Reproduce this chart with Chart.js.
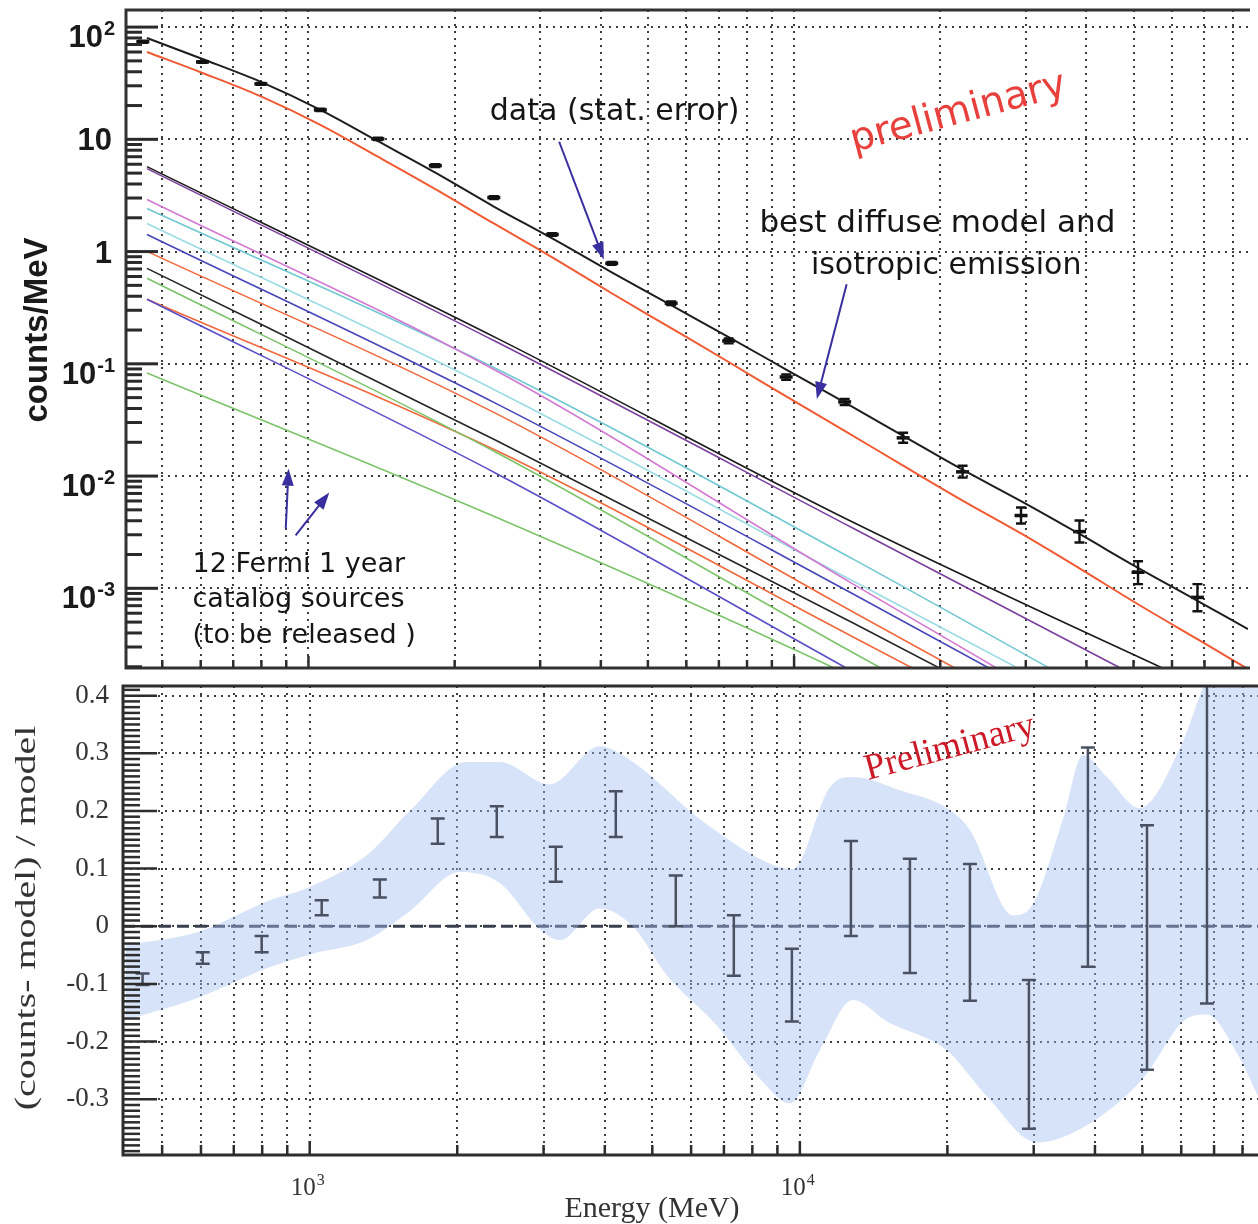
<!DOCTYPE html>
<html>
<head>
<meta charset="utf-8">
<title>Counts spectrum and residuals</title>
<script src="https://cdn.jsdelivr.net/npm/chart.js@4.4.1/dist/chart.umd.min.js"></script>
<style>
  html, body { margin: 0; padding: 0; background: #fff; overflow: hidden; }
  canvas { position: absolute; left: 0; }
  #spec { top: 0; }
  #resid { top: 676px; }
</style>
</head>
<body>
<canvas id="spec" width="1258" height="680"></canvas>
<canvas id="resid" width="1258" height="548"></canvas>
<script>
// ---- values ----
// energy of each measured bin (MeV)
const binEnergy = [456, 605, 798, 1058, 1390, 1825, 2408, 3177, 4212, 5583, 7333, 9632, 12710, 16770, 22230, 29330, 38700, 51080, 67700];
// counts/MeV with stat. error
const counts   = [74, 48.9, 31.2, 18.3, 10.1, 5.83, 3.03, 1.42, 0.786, 0.347, 0.160, 0.0764, 0.0458, 0.0219, 0.0109, 0.00445, 0.0032, 0.00139, 0.00083];
const countsLo = [72.5, 48.0, 30.6, 17.9, 9.85, 5.67, 2.94, 1.38, 0.762, 0.334, 0.152, 0.0722, 0.0430, 0.0198, 0.00968, 0.00378, 0.00256, 0.00109, 0.000625];
const countsHi = [75.5, 49.8, 31.8, 18.7, 10.35, 5.99, 3.12, 1.46, 0.810, 0.360, 0.168, 0.0806, 0.0487, 0.0243, 0.01237, 0.00524, 0.00402, 0.00174, 0.00109];

// total model and diffuse + isotropic model
const modelEnergy = [465, 605, 798, 1058, 1390, 1825, 2408, 3177, 4212, 5583, 7333, 9632, 12710, 16770, 22230, 29330, 38700, 51080, 67700, 86040];
const totalModel   = [79.9, 51.97, 32.48, 18.32, 9.62, 5.05, 2.520, 1.310, 0.6536, 0.3329, 0.1730, 0.0890, 0.04532, 0.02284, 0.01140, 0.005986, 0.003048, 0.001521, 7.74e-4, 4.32e-4];
const diffuseModel = [60.0, 39.03, 24.14, 13.48, 7.008, 3.604, 1.780, 0.888, 0.4254, 0.2079, 0.1038, 0.05124, 0.02530, 0.01238, 0.006047, 0.003081, 0.001505, 7.21e-4, 3.52e-4, 1.91e-4];

// the 12 catalog sources
const srcEnergy = [465, 2442, 13260, 86040];
const sourceFlux = [
  [5.71, 0.1695, 0.003856, 8.6e-5],
  [5.48, 0.1562, 0.00341, 4.95e-5],
  [2.909, 0.0863, 0.001085, 9.6e-6],
  [2.419, 0.0899, 0.00181, 1.97e-5],
  [1.780, 0.0573, 0.001154, 1.61e-5],
  [1.421, 0.04395, 8.85e-4, 1.07e-5],
  [1.004, 0.0358, 6.12e-4, 7.1e-6],
  [0.709, 0.02063, 4.89e-4, 7.1e-6],
  [0.578, 0.01614, 2.65e-4, 3.13e-6],
  [0.3763, 0.0105, 1.795e-4, 2.08e-6],
  [0.3763, 0.0168, 3.67e-4, 5.22e-6],
  [0.0829, 0.00427, 1.62e-4, 3.13e-6]
];
const sourceColors = ['#1a1a1a', '#7b3f9e', '#d27ad2', '#6fc8d2', '#9adbe4', '#4646b8',
                      '#f0683c', '#262626', '#7cc46a', '#5a4fc8', '#f0683c', '#7cc46a'];

// (counts - model) / model error bars
const residHi = [-0.082, -0.045, -0.017, 0.045, 0.081, 0.187, 0.208, 0.138, 0.234, 0.088, 0.019, -0.039, 0.148, 0.117, 0.108, -0.093, 0.31, 0.175, 0.45];
const residLo = [-0.102, -0.065, -0.045, 0.019, 0.05, 0.143, 0.155, 0.077, 0.155, 0.0, -0.086, -0.165, -0.017, -0.081, -0.129, -0.351, -0.070, -0.249, -0.134];

// shaded band (systematics)
const bandUpEnergy = [421, 596, 817, 1000, 1307, 1600, 2091, 2442, 3089, 3906, 4563, 6251, 8565, 9676, 11514, 12832, 16230, 19953, 22230, 27210, 29890, 34420, 37810, 42310, 49400, 59630, 66440, 71940, 86040];
const bandUp = [-0.033, -0.009, 0.043, 0.068, 0.123, 0.2, 0.285, 0.285, 0.246, 0.312, 0.285, 0.186, 0.111, 0.099, 0.241, 0.259, 0.234, 0.205, 0.167, 0.019, 0.038, 0.186, 0.297, 0.259, 0.205, 0.309, 0.416, 0.5, 0.55];
const bandLoEnergy = [421, 596, 817, 1000, 1307, 1600, 2024, 2442, 2947, 3237, 3906, 4563, 5354, 6769, 8285, 9541, 10985, 12832, 15054, 19953, 24070, 30450, 38530, 50120, 61640, 67700, 77950, 86040];
const bandLo = [-0.163, -0.123, -0.073, -0.049, -0.024, 0.026, 0.094, 0.075, -0.005, -0.024, 0.031, 0.0, -0.085, -0.172, -0.264, -0.307, -0.215, -0.128, -0.165, -0.215, -0.295, -0.375, -0.345, -0.264, -0.160, -0.153, -0.220, -0.295];

// ticks
const energyTicks = [500, 600, 700, 800, 900, 1000, 2000, 3000, 4000, 5000, 6000, 7000, 8000, 9000,
                     10000, 20000, 30000, 40000, 50000, 60000, 70000, 80000];
const countDecades = [1e-3, 1e-2, 1e-1, 1, 10, 100];
const countLabels = [['10', '-3'], ['10', '-2'], ['10', '-1'], ['1', ''], ['10', ''], ['10', '2']];
const residTicks = [-0.3, -0.2, -0.1, 0, 0.1, 0.2, 0.3, 0.4];
const residLabels = ['-0.3', '-0.2', '-0.1', '0', '0.1', '0.2', '0.3', '0.4'];
const energyLabels = [[1000, '3'], [10000, '4']];

// ---- helpers ----
const SANS = '"Liberation Sans", Arial, sans-serif';
const SERIF = '"Liberation Serif", "Times New Roman", serif';
const HAND = '"DejaVu Sans", sans-serif';
const GRID = { color: 'rgba(40,40,40,0.9)', lineWidth: 2, drawTicks: false };
const GRID_DASH = [2, 5];

function lineDs(label, xs, ys, color, width) {
  return { label, data: xs.map((e, i) => ({ x: e, y: ys[i] })), borderColor: color,
           borderWidth: width, pointRadius: 0, fill: false, cubicInterpolationMode: 'monotone' };
}

function clipArea(ctx, a) {
  ctx.beginPath();
  ctx.rect(a.left, a.top, a.right - a.left, a.bottom - a.top);
  ctx.clip();
}

function errorBars(chart, xs, lo, hi, color, cap, lw) {
  const { ctx, chartArea: a, scales: { x, y } } = chart;
  ctx.save();
  clipArea(ctx, a);
  ctx.strokeStyle = color;
  ctx.lineWidth = lw;
  xs.forEach((e, i) => {
    const px = x.getPixelForValue(e);
    const y1 = y.getPixelForValue(lo[i]);
    const y2 = y.getPixelForValue(hi[i]);
    ctx.beginPath();
    ctx.moveTo(px, y1); ctx.lineTo(px, y2);
    ctx.moveTo(px - cap, y1); ctx.lineTo(px + cap, y1);
    ctx.moveTo(px - cap, y2); ctx.lineTo(px + cap, y2);
    ctx.stroke();
  });
  ctx.restore();
}

function frame(chart, color) {
  const { ctx, chartArea: a } = chart;
  ctx.save();
  ctx.strokeStyle = color;
  ctx.lineWidth = 3;
  ctx.beginPath();
  ctx.moveTo(a.right + 2, a.top); ctx.lineTo(a.left, a.top);
  ctx.lineTo(a.left, a.bottom); ctx.lineTo(a.right + 2, a.bottom);
  ctx.stroke();
  ctx.restore();
}

function xTicksInside(chart, len) {
  const { ctx, chartArea: a, scales: { x } } = chart;
  ctx.save();
  ctx.strokeStyle = '#2d2d2d';
  ctx.lineWidth = 2.5;
  energyTicks.forEach(e => {
    const px = x.getPixelForValue(e);
    const l = (e === 1000 || e === 10000) ? len + 4 : len;
    ctx.beginPath(); ctx.moveTo(px, a.bottom); ctx.lineTo(px, a.bottom - l); ctx.stroke();
  });
  ctx.restore();
}

function supText(ctx, xRight, yBase, base, exp, font, expFont, rise) {
  ctx.textAlign = 'left';
  ctx.textBaseline = 'alphabetic';
  ctx.font = expFont;
  const we = exp ? ctx.measureText(exp).width + 1 : 0;
  ctx.font = font;
  const wb = ctx.measureText(base).width;
  const x0 = xRight - we - wb;
  ctx.fillText(base, x0, yBase);
  if (exp) { ctx.font = expFont; ctx.fillText(exp, x0 + wb + 1, yBase - rise); }
}

function arrow(ctx, x1, y1, x2, y2) {
  const ang = Math.atan2(y2 - y1, x2 - x1);
  const c = Math.cos(ang), s = Math.sin(ang);
  ctx.save();
  ctx.strokeStyle = '#3a2f9e';
  ctx.fillStyle = '#3a2f9e';
  ctx.lineWidth = 2;
  ctx.beginPath(); ctx.moveTo(x1, y1); ctx.lineTo(x2 - 12 * c, y2 - 12 * s); ctx.stroke();
  ctx.beginPath();
  ctx.moveTo(x2, y2);
  ctx.lineTo(x2 - 17 * c + 6 * s, y2 - 17 * s - 6 * c);
  ctx.lineTo(x2 - 17 * c - 6 * s, y2 - 17 * s + 6 * c);
  ctx.closePath(); ctx.fill();
  ctx.restore();
}

// annotations, placed in data coordinates
const specNotes = [
  { text: 'data (stat. error)', e: 2363, v: 17.6, size: 30 },
  { text: 'best diffuse model and', e: 8484, v: 1.78, size: 31 },
  { text: 'isotropic emission', e: 10830, v: 0.739, size: 30 },
  { text: '12 Fermi 1 year', e: 577, v: 0.00163, size: 27 },
  { text: 'catalog sources', e: 577, v: 7.82e-4, size: 27 },
  { text: '(to be released )', e: 577, v: 3.75e-4, size: 27 }
];
const specArrows = [
  [3283, 9.52, 4057, 0.852],
  [12830, 0.511, 11140, 0.0487],
  [898, 0.00341, 910, 0.01164],
  [941, 0.00296, 1104, 0.00713]
];

const specDecor = {
  id: 'specDecor',
  afterDatasetsDraw(chart) {
    errorBars(chart, binEnergy, countsLo, countsHi, '#111', 5, 2.4);
  },
  afterDraw(chart) {
    const { ctx, chartArea: a, scales: { x, y } } = chart;
    frame(chart, '#333');
    // minor / major ticks along the left axis
    ctx.save();
    ctx.strokeStyle = '#2a2a2a';
    ctx.lineWidth = 3;
    for (let d = 1e-4; d < 1000; d *= 10) {
      for (let m = 1; m <= 9; m++) {
        const v = m * d;
        if (v < y.min || v > y.max) continue;
        const py = y.getPixelForValue(v);
        ctx.beginPath(); ctx.moveTo(a.left, py); ctx.lineTo(a.left + (m === 1 ? 32 : 16), py); ctx.stroke();
      }
    }
    ctx.restore();
    xTicksInside(chart, 8);
    // tick labels
    ctx.save();
    ctx.fillStyle = '#1a1a1a';
    countDecades.forEach((v, i) => {
      const py = y.getPixelForValue(v);
      const [b, e] = countLabels[i];
      if (e) supText(ctx, 115, py + 20, b, e, 'bold 31px ' + SANS, 'bold 20px ' + SANS, 12);
      else supText(ctx, 112, py + 11, b, '', 'bold 31px ' + SANS, '', 0);
    });
    // axis title
    ctx.translate(38, 330);
    ctx.rotate(-Math.PI / 2);
    ctx.textAlign = 'center';
    ctx.textBaseline = 'middle';
    ctx.font = 'bold 33px ' + SANS;
    ctx.fillText('counts/MeV', 0, 0);
    ctx.restore();
    // notes
    ctx.save();
    ctx.fillStyle = '#151515';
    ctx.textBaseline = 'middle';
    ctx.textAlign = 'left';
    specNotes.forEach(n => {
      ctx.font = n.size + 'px ' + HAND;
      ctx.fillText(n.text, x.getPixelForValue(n.e), y.getPixelForValue(n.v));
    });
    ctx.restore();
    specArrows.forEach(([e1, v1, e2, v2]) =>
      arrow(ctx, x.getPixelForValue(e1), y.getPixelForValue(v1), x.getPixelForValue(e2), y.getPixelForValue(v2)));
    // "preliminary" stamp
    ctx.save();
    ctx.translate(x.getPixelForValue(21800), y.getPixelForValue(17.0));
    ctx.rotate(-15 * Math.PI / 180);
    ctx.fillStyle = '#e8403c';
    ctx.font = '39px ' + HAND;
    ctx.textAlign = 'center';
    ctx.textBaseline = 'middle';
    ctx.fillText('preliminary', 0, 0);
    ctx.restore();
  }
};

new Chart(document.getElementById('spec'), {
  type: 'line',
  data: {
    datasets: [
      ...sourceFlux.map((f, i) => lineDs('source ' + (i + 1), srcEnergy, f, sourceColors[i], 1.6)),
      lineDs('diffuse + isotropic', modelEnergy, diffuseModel, '#ef5a32', 2),
      lineDs('total model', modelEnergy, totalModel, '#1e1e1e', 2),
      { label: 'data', data: binEnergy.map((e, i) => ({ x: e, y: counts[i] })), showLine: false,
        pointStyle: 'line', pointRadius: 6.5, pointBorderWidth: 3.5, pointBorderColor: '#111', borderColor: '#111' }
    ]
  },
  options: {
    responsive: false,
    animation: false,
    layout: { padding: { top: 8, left: 0, right: 0, bottom: 0 } },
    plugins: { legend: { display: false }, tooltip: { enabled: false } },
    scales: {
      x: {
        type: 'logarithmic', min: 421, max: 86040,
        afterBuildTicks: s => { s.ticks = energyTicks.map(v => ({ value: v })); },
        afterFit: s => { s.height = 12; },
        ticks: { display: false },
        grid: GRID,
        border: { display: false, dash: GRID_DASH }
      },
      y: {
        type: 'logarithmic', min: 1.95e-4, max: 142,
        afterBuildTicks: s => { s.ticks = countDecades.map(v => ({ value: v })); },
        afterFit: s => { s.width = 126; },
        ticks: { display: false },
        grid: GRID,
        border: { display: false, dash: GRID_DASH }
      }
    }
  },
  plugins: [specDecor]
});

// ---- residual panel ----
const residDecor = {
  id: 'residDecor',
  afterDatasetsDraw(chart) {
    errorBars(chart, binEnergy, residLo, residHi, '#4a5162', 7, 2.5);
  },
  afterDraw(chart) {
    const { ctx, chartArea: a, scales: { x, y } } = chart;
    frame(chart, '#2d2d2d');
    ctx.save();
    ctx.strokeStyle = '#2d2d2d';
    ctx.lineWidth = 2.5;
    for (let k = -39; k <= 41; k++) {
      const py = y.getPixelForValue(k / 100);
      ctx.beginPath(); ctx.moveTo(a.left, py); ctx.lineTo(a.left + (k % 10 === 0 ? 34 : 17), py); ctx.stroke();
    }
    ctx.restore();
    xTicksInside(chart, 10);
    ctx.save();
    ctx.fillStyle = '#333';
    ctx.font = '27px ' + SERIF;
    ctx.textAlign = 'right';
    ctx.textBaseline = 'middle';
    residTicks.forEach((v, i) => ctx.fillText(residLabels[i], 109, y.getPixelForValue(v)));
    energyLabels.forEach(([e, p]) => {
      const px = x.getPixelForValue(e);
      supText(ctx, px + 15, a.bottom + 40, '10', p, '25px ' + SERIF, '16px ' + SERIF, 10);
    });
    ctx.font = '30px ' + SERIF;
    ctx.textAlign = 'center';
    ctx.textBaseline = 'alphabetic';
    ctx.fillText('Energy (MeV)', 652, 541);
    ctx.translate(27, 242);
    ctx.rotate(-Math.PI / 2);
    ctx.scale(1.33, 1);
    ctx.textBaseline = 'middle';
    ctx.fillText('(counts- model) / model', 0, 0);
    ctx.restore();
    ctx.save();
    ctx.translate(x.getPixelForValue(20240), y.getPixelForValue(0.309));
    ctx.rotate(-15 * Math.PI / 180);
    ctx.fillStyle = '#cc1a28';
    ctx.font = '37px ' + SERIF;
    ctx.textAlign = 'center';
    ctx.textBaseline = 'middle';
    ctx.fillText('Preliminary', 0, 0);
    ctx.restore();
  }
};

new Chart(document.getElementById('resid'), {
  type: 'line',
  data: {
    datasets: [
      { label: 'band upper', data: bandUpEnergy.map((e, i) => ({ x: e, y: bandUp[i] })),
        borderWidth: 0, borderColor: 'rgba(0,0,0,0)', pointRadius: 0, cubicInterpolationMode: 'monotone',
        fill: '+1', backgroundColor: 'rgba(160,188,238,0.42)' },
      { label: 'band lower', data: bandLoEnergy.map((e, i) => ({ x: e, y: bandLo[i] })),
        borderWidth: 0, borderColor: 'rgba(0,0,0,0)', pointRadius: 0, cubicInterpolationMode: 'monotone', fill: false },
      { label: 'zero', data: [{ x: 416, y: 0 }, { x: 86040, y: 0 }], borderColor: '#3a4050',
        borderWidth: 2.8, borderDash: [12, 6], pointRadius: 0, fill: false }
    ]
  },
  options: {
    responsive: false,
    animation: false,
    layout: { padding: { top: 10, left: 0, right: 0, bottom: 0 } },
    plugins: { legend: { display: false }, tooltip: { enabled: false } },
    scales: {
      x: {
        type: 'logarithmic', min: 416, max: 86040,
        afterBuildTicks: s => { s.ticks = energyTicks.map(v => ({ value: v })); },
        afterFit: s => { s.height = 69; },
        ticks: { display: false },
        grid: GRID,
        border: { display: false, dash: GRID_DASH }
      },
      y: {
        min: -0.3967, max: 0.4167,
        afterBuildTicks: s => { s.ticks = residTicks.map(v => ({ value: v })); },
        afterFit: s => { s.width = 123; },
        ticks: { display: false },
        grid: GRID,
        border: { display: false, dash: GRID_DASH }
      }
    }
  },
  plugins: [residDecor]
});
</script>
</body>
</html>
